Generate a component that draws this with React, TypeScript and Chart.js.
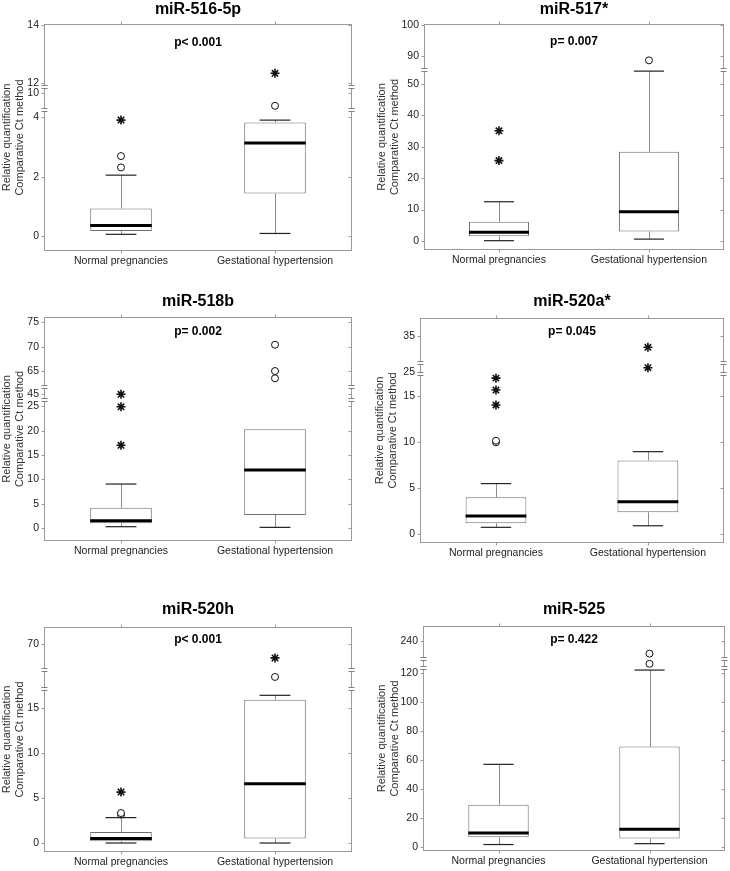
import React, { useEffect, useRef } from 'react';
import { Chart, registerables, LinearScale } from 'chart.js';

Chart.register(...registerables);

const FONT = '"Liberation Sans", Arial, Helvetica, sans-serif';
Chart.defaults.font.family = FONT;

const CATEGORIES = ['Normal pregnancies', 'Gestational hypertension'];
const Y_TITLE = ['Relative quantification', 'Comparative Ct method'];

// five-number summaries: [low whisker, Q1, median, Q3, high whisker]
// miR-516-5p
const M516_NORMAL = [0.06, 0.17, 0.36, 0.93, 2.05];
const M516_GEST = [0.09, 1.43, 3.13, 3.82, 3.9];
const M516_CIRCLES_N = [2.31, 2.69];
const M516_CIRCLES_G = [9.57];
const M516_STARS_N = [3.9];
const M516_STARS_G = [12.34];
const M516_TICKS = [0, 2, 4, 10, 12, 14];
const M516_SEGMENTS = [[-0.5, 4.24, 141], [9.43, 10.2, 23], [11.87, 14.03, 63]];

// miR-517*
const M517_NORMAL = [0.1, 1.5, 2.8, 6.1, 12.5];
const M517_GEST = [0.6, 3.0, 9.3, 28.4, 54.1];
const M517_CIRCLES_N: number[] = [];
const M517_CIRCLES_G = [88.6];
const M517_STARS_N = [25.6, 35.1];
const M517_STARS_G: number[] = [];
const M517_TICKS = [0, 10, 20, 30, 40, 50, 90, 100];
const M517_SEGMENTS = [[-2.87, 54.46, 180], [85.5, 100.3, 46]];

// miR-518b
const M518_NORMAL = [0.27, 0.96, 1.5, 4.17, 9.03];
const M518_GEST = [0.13, 2.67, 11.9, 20.3, 20.3];
const M518_CIRCLES_N: number[] = [];
const M518_CIRCLES_G = [63.5, 65.0, 70.4];
const M518_STARS_N = [17.0, 24.9, 45.0];
const M518_STARS_G: number[] = [];
const M518_TICKS = [0, 5, 10, 15, 20, 25, 45, 65, 70, 75];
const M518_SEGMENTS = [[-2.67, 26.3, 141], [43.83, 46.56, 13.3], [61.78, 76.1, 69.7]];

// miR-520a*
const M520A_NORMAL = [0.73, 1.17, 1.96, 4.0, 5.5];
const M520A_GEST = [0.9, 2.37, 3.52, 8.03, 8.98];
const M520A_CIRCLES_N = [10.0, 10.17];
const M520A_CIRCLES_G: number[] = [];
const M520A_STARS_N = [14.07, 15.7, 17.0];
const M520A_STARS_G = [25.47, 33.77];
const M520A_TICKS = [0, 5, 10, 15, 25, 35];
const M520A_SEGMENTS = [[-0.98, 17.45, 169], [24.78, 25.98, 11], [32.06, 36.96, 45]];

// miR-520h
const M520H_NORMAL = [0.0, 0.19, 0.49, 1.22, 2.83];
const M520H_GEST = [0.0, 0.49, 6.61, 15.96, 16.45];
const M520H_CIRCLES_N = [3.16, 3.34];
const M520H_CIRCLES_G = [38];
const M520H_STARS_N = [5.67];
const M520H_STARS_G = [65.3];
const M520H_TICKS = [0, 5, 10, 15, 70];
const M520H_SEGMENTS = [[-1.0, 17.12, 162.7], [25, 45, 19], [61, 76, 43.3]];

// miR-525
const M525_NORMAL = [1.7, 6.7, 9.6, 29.1, 56.9];
const M525_GEST = [2.3, 5.8, 12.2, 69.1, 121.8];
const M525_CIRCLES_N: number[] = [];
const M525_CIRCLES_G = [131, 231.3];
const M525_STARS_N: number[] = [];
const M525_STARS_G: number[] = [];
const M525_TICKS = [0, 20, 40, 60, 80, 100, 120, 240];
const M525_SEGMENTS = [[-2.75, 123, 182.7], [126, 136, 9], [227.4, 250.3, 33.3]];

type Spec = {
  title: string; p: string;
  normal: number[]; gest: number[];
  circlesN: number[]; circlesG: number[]; starsN: number[]; starsG: number[];
  ticks: number[]; segments: number[][];
  rect: { left: number; top: number; w: number; h: number };
  area: { l: number; t: number; r: number; b: number };
  titleY: number; pY: number; yTitlePad: number;
};

const PANELS: Spec[] = [
  {
    title: 'miR-516-5p', p: 'p< 0.001', normal: M516_NORMAL, gest: M516_GEST,
    circlesN: M516_CIRCLES_N, circlesG: M516_CIRCLES_G, starsN: M516_STARS_N, starsG: M516_STARS_G,
    ticks: M516_TICKS, segments: M516_SEGMENTS,
    rect: { left: 0, top: 0, w: 365, h: 285 }, area: { l: 44, t: 24, r: 352, b: 251 },
    titleY: 10, pY: 43, yTitlePad: 0,
  },
  {
    title: 'miR-517*', p: 'p= 0.007', normal: M517_NORMAL, gest: M517_GEST,
    circlesN: M517_CIRCLES_N, circlesG: M517_CIRCLES_G, starsN: M517_STARS_N, starsG: M517_STARS_G,
    ticks: M517_TICKS, segments: M517_SEGMENTS,
    rect: { left: 365, top: 0, w: 365, h: 285 }, area: { l: 59, t: 24, r: 362, b: 250 },
    titleY: 10, pY: 42, yTitlePad: 10,
  },
  {
    title: 'miR-518b', p: 'p= 0.002', normal: M518_NORMAL, gest: M518_GEST,
    circlesN: M518_CIRCLES_N, circlesG: M518_CIRCLES_G, starsN: M518_STARS_N, starsG: M518_STARS_G,
    ticks: M518_TICKS, segments: M518_SEGMENTS,
    rect: { left: 0, top: 290, w: 365, h: 290 }, area: { l: 44, t: 27, r: 352, b: 251 },
    titleY: 12, pY: 42, yTitlePad: 0,
  },
  {
    title: 'miR-520a*', p: 'p= 0.045', normal: M520A_NORMAL, gest: M520A_GEST,
    circlesN: M520A_CIRCLES_N, circlesG: M520A_CIRCLES_G, starsN: M520A_STARS_N, starsG: M520A_STARS_G,
    ticks: M520A_TICKS, segments: M520A_SEGMENTS,
    rect: { left: 365, top: 290, w: 365, h: 290 }, area: { l: 55, t: 28, r: 362, b: 253 },
    titleY: 12, pY: 42, yTitlePad: 8,
  },
  {
    title: 'miR-520h', p: 'p< 0.001', normal: M520H_NORMAL, gest: M520H_GEST,
    circlesN: M520H_CIRCLES_N, circlesG: M520H_CIRCLES_G, starsN: M520H_STARS_N, starsG: M520H_STARS_G,
    ticks: M520H_TICKS, segments: M520H_SEGMENTS,
    rect: { left: 0, top: 585, w: 365, h: 286 }, area: { l: 44, t: 42, r: 352, b: 267 },
    titleY: 25, pY: 55, yTitlePad: 0,
  },
  {
    title: 'miR-525', p: 'p= 0.422', normal: M525_NORMAL, gest: M525_GEST,
    circlesN: M525_CIRCLES_N, circlesG: M525_CIRCLES_G, starsN: M525_STARS_N, starsG: M525_STARS_G,
    ticks: M525_TICKS, segments: M525_SEGMENTS,
    rect: { left: 365, top: 585, w: 365, h: 286 }, area: { l: 58, t: 41, r: 362, b: 266 },
    titleY: 25, pY: 55, yTitlePad: 10,
  },
];

const SPECS = new WeakMap<HTMLCanvasElement, Spec>();

class BrokenScale extends LinearScale {
  static id = 'broken';
  static defaults = LinearScale.defaults;

  spec(): Spec {
    return SPECS.get((this as any).chart.canvas)!;
  }
  determineDataLimits() {
    const s = this.spec().segments;
    (this as any).min = s[0][0];
    (this as any).max = s[s.length - 1][1];
  }
  buildTicks() {
    const s = this.spec().segments;
    (this as any).min = s[0][0];
    (this as any).max = s[s.length - 1][1];
    return this.spec().ticks.map((v) => ({ value: v }));
  }
  decimalFor(value: number) {
    const s = this.spec().segments;
    const total = s.reduce((acc, seg) => acc + seg[2], 0);
    let acc = 0;
    for (let i = 0; i < s.length; i++) {
      const [a, b, w] = s[i];
      if (value <= b || i === s.length - 1) {
        if (value < a && i > 0) return acc / total;
        return (acc + ((value - a) / (b - a)) * w) / total;
      }
      acc += w;
    }
    return 1;
  }
  getPixelForValue(value: number) {
    return (this as any).getPixelForDecimal(this.decimalFor(value));
  }
  getValueForPixel(pixel: number) {
    const d = (this as any).getDecimalForPixel(pixel);
    return (this as any).min + d * ((this as any).max - (this as any).min);
  }
}
Chart.register(BrokenScale as any);

function line(ctx: CanvasRenderingContext2D, x1: number, y1: number, x2: number, y2: number) {
  ctx.beginPath();
  ctx.moveTo(x1, y1);
  ctx.lineTo(x2, y2);
  ctx.stroke();
}

const decorPlugin = {
  id: 'boxDecor',
  afterDatasetsDraw(chart: any) {
    const spec = SPECS.get(chart.canvas);
    if (!spec) return;
    const ctx: CanvasRenderingContext2D = chart.ctx;
    const ys = chart.scales.y;
    const meta = chart.getDatasetMeta(0);
    [spec.normal, spec.gest].forEach((b, i) => {
      const el = meta.data[i];
      if (!el) return;
      const cx = el.x;
      const hw = el.width / 2;
      const [lo, q1, med, q3, hi] = b;
      const X = Math.round(cx) + 0.5;
      ctx.save();
      ctx.strokeStyle = '#8a8a8a';
      ctx.lineWidth = 1;
      if (hi > q3) line(ctx, X, ys.getPixelForValue(q3), X, ys.getPixelForValue(hi));
      if (lo < q1) line(ctx, X, ys.getPixelForValue(q1), X, ys.getPixelForValue(lo));
      ctx.strokeStyle = '#222';
      ctx.lineWidth = 1.2;
      const cw = hw * 0.5;
      if (hi > q3) line(ctx, cx - cw, ys.getPixelForValue(hi), cx + cw, ys.getPixelForValue(hi));
      if (lo < q1) line(ctx, cx - cw, ys.getPixelForValue(lo), cx + cw, ys.getPixelForValue(lo));
      ctx.strokeStyle = '#000';
      ctx.lineWidth = 3;
      line(ctx, cx - hw, ys.getPixelForValue(med), cx + hw, ys.getPixelForValue(med));
      ctx.restore();
    });
  },
  afterDraw(chart: any) {
    const spec = SPECS.get(chart.canvas);
    if (!spec) return;
    const ctx: CanvasRenderingContext2D = chart.ctx;
    const a = chart.chartArea;
    const ys = chart.scales.y;
    const xs = chart.scales.x;
    const L = Math.round(a.left) + 0.5;
    const R = Math.round(a.right) - 0.5;
    const T = Math.round(a.top) + 0.5;
    const B = Math.round(a.bottom) - 0.5;
    ctx.save();
    ctx.strokeStyle = '#9a9a9a';
    ctx.lineWidth = 1;
    ctx.strokeRect(L, T, R - L, B - T);
    ys.ticks.forEach((t: any) => {
      const py = Math.round(ys.getPixelForValue(t.value)) + 0.5;
      line(ctx, L - 3, py, L, py);
      line(ctx, R, py, R - 3, py);
    });
    [0, 1].forEach((i) => {
      const px = Math.round(xs.getPixelForValue(i)) + 0.5;
      line(ctx, px, T, px, T - 3);
      line(ctx, px, B, px, B + 3);
    });
    // axis breaks
    const segs = spec.segments;
    for (let i = 0; i < segs.length - 1; i++) {
      const py = Math.round(ys.getPixelForValue(segs[i][1]));
      [L, R].forEach((X) => {
        ctx.fillStyle = '#fff';
        ctx.fillRect(X - 1.5, py - 1.5, 3, 3);
        ctx.strokeStyle = '#808080';
        line(ctx, X - 3, py - 1.5, X + 3, py - 1.5);
        line(ctx, X - 3, py + 1.5, X + 3, py + 1.5);
      });
    }
    const cx = (a.left + a.right) / 2;
    ctx.fillStyle = '#000';
    ctx.textAlign = 'center';
    ctx.textBaseline = 'middle';
    ctx.font = `bold 16px ${FONT}`;
    ctx.fillText(spec.title, cx, spec.titleY);
    ctx.font = `bold 12px ${FONT}`;
    ctx.fillText(spec.p, cx, spec.pY);
    ctx.restore();
  },
};

function Panel({ spec }: { spec: Spec }) {
  const ref = useRef<HTMLCanvasElement>(null);
  useEffect(() => {
    const canvas = ref.current!;
    SPECS.set(canvas, spec);
    const { w, h } = spec.rect;
    const pts = (vals: number[], cat: string) => vals.map((v) => ({ x: cat, y: v }));
    const chart = new Chart(canvas, {
      type: 'bar',
      data: {
        labels: CATEGORIES,
        datasets: [
          {
            type: 'bar',
            data: [[spec.normal[1], spec.normal[3]], [spec.gest[1], spec.gest[3]]] as any,
            backgroundColor: '#ffffff',
            borderColor: '#6e6e6e',
            borderWidth: 1,
            borderSkipped: false,
            barPercentage: 0.4,
            categoryPercentage: 1,
          },
          {
            type: 'line',
            showLine: false,
            data: [...pts(spec.circlesN, CATEGORIES[0]), ...pts(spec.circlesG, CATEGORIES[1])] as any,
            pointStyle: 'circle',
            pointRadius: 3.5,
            pointBackgroundColor: '#ffffff',
            pointBorderColor: '#111',
            pointBorderWidth: 1,
          },
          {
            type: 'line',
            showLine: false,
            data: [...pts(spec.starsN, CATEGORIES[0]), ...pts(spec.starsG, CATEGORIES[1])] as any,
            pointStyle: 'star',
            pointRadius: 4.5,
            pointBackgroundColor: '#111',
            pointBorderColor: '#111',
            pointBorderWidth: 1.6,
          },
        ],
      } as any,
      options: {
        responsive: false,
        animation: false,
        events: [],
        layout: { padding: { left: 0, top: spec.area.t, right: w - spec.area.r, bottom: 0 } },
        plugins: { legend: { display: false }, tooltip: { enabled: false }, title: { display: false } },
        scales: {
          x: {
            type: 'category',
            offset: true,
            grid: { display: false, drawTicks: false, tickLength: 0 },
            border: { display: false },
            ticks: { color: '#222', font: { size: 10.5 }, padding: 4, maxRotation: 0, autoSkip: false },
            afterFit: (s: any) => { s.height = h - spec.area.b; },
          },
          y: {
            type: 'broken',
            grid: { display: false, drawTicks: false, tickLength: 0 },
            border: { display: false },
            ticks: { color: '#222', font: { size: 10.5 }, padding: 5, autoSkip: false, callback: (v: any) => String(v) },
            title: {
              display: true,
              text: Y_TITLE,
              color: '#333',
              font: { size: 11, lineHeight: 1.2 },
              padding: { top: spec.yTitlePad, bottom: 0 },
            },
            afterFit: (s: any) => { s.width = spec.area.l; },
          },
        } as any,
      },
      plugins: [decorPlugin],
    });
    return () => chart.destroy();
  }, [spec]);
  return (
    <canvas
      ref={ref}
      width={spec.rect.w}
      height={spec.rect.h}
      style={{ position: 'absolute', left: spec.rect.left, top: spec.rect.top, width: spec.rect.w, height: spec.rect.h }}
    />
  );
}

export default function App() {
  return (
    <div style={{ position: 'absolute', left: 0, top: 0, width: 730, height: 871, background: '#fff' }}>
      {PANELS.map((s) => (
        <Panel key={s.title} spec={s} />
      ))}
    </div>
  );
}
